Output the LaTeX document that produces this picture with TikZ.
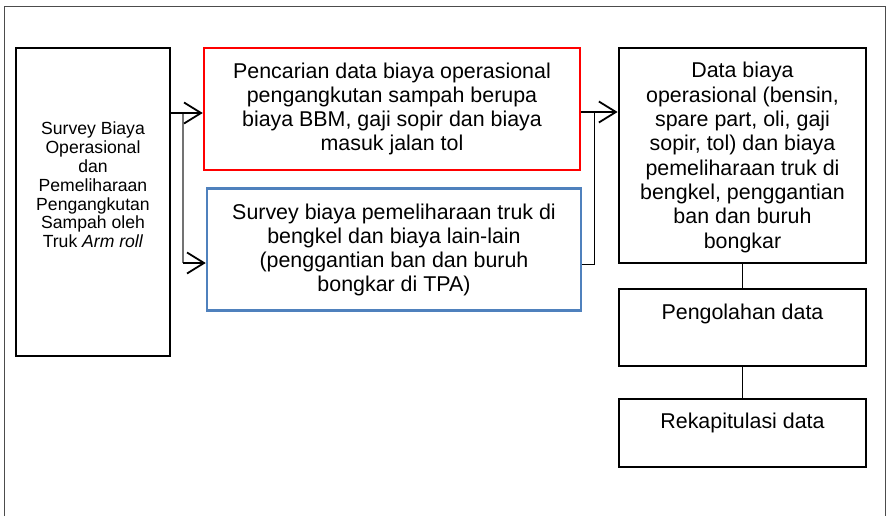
\documentclass[tikz,border=0pt]{standalone}
\usepackage{fontspec}
\setmainfont{Liberation Sans}
\usetikzlibrary{arrows.meta}
\definecolor{boxblue}{RGB}{79,129,189}
\begin{document}
\begin{tikzpicture}[x=1pt,y=-1pt,
  box/.style={draw=black,line width=2.8pt,rectangle,inner sep=0pt},
  redbox/.style={draw=red,line width=2.5pt,rectangle,inner sep=0pt},
  bluebox/.style={draw=boxblue,line width=2.5pt,rectangle,inner sep=0pt},
  bigtxt/.style={align=center,inner sep=0pt,font=\fontsize{21.4}{24.3}\selectfont},
  smalltxt/.style={align=center,inner sep=0pt,font=\fontsize{17.6}{18.8}\selectfont},
  flow/.style={line width=1.8pt,-{Straight Barb[length=17pt,width=21pt,line width=1.8pt]}},
  link/.style={line width=1pt}]
\useasboundingbox (0,0) rectangle (890,516);
% page frame
\draw[line width=1pt,black!70] (4,516) -- (4,7) -- (885,7) -- (885,516);

% boxes
\node[box,minimum width=154,minimum height=308] (L) at (93,202) {};
\node[redbox,minimum width=376,minimum height=122] (R) at (392,109) {};
\node[bluebox,minimum width=374,minimum height=122] (B) at (394,249.5) {};
\node[box,minimum width=247,minimum height=215] (D) at (742.5,155.5) {};
\node[box,minimum width=247,minimum height=77] (P) at (742.5,327.5) {};
\node[box,minimum width=247,minimum height=68] (K) at (742.5,433) {};

% texts
\node[smalltxt] (Lt) at (93,185) {Survey Biaya\\Operasional\\dan\\Pemeliharaan\\Pengangkutan\\Sampah oleh\\Truk \textit{Arm roll}};
\node[bigtxt] (Rt) at (392,109) {Pencarian data biaya operasional\\pengangkutan sampah berupa\\biaya BBM, gaji sopir dan biaya\\masuk jalan tol};
\node[bigtxt] (Bt) at (394,250) {Survey biaya pemeliharaan truk di\\bengkel dan biaya lain-lain\\(penggantian ban dan buruh\\bongkar di TPA)};
\node[bigtxt] (Dt) at (742.5,157.5) {Data biaya\\operasional (bensin,\\spare part, oli, gaji\\sopir, tol) dan biaya\\pemeliharaan truk di\\bengkel, penggantian\\ban dan buruh\\bongkar};
\node[bigtxt] (Pt) at (742.5,314) {Pengolahan data};
\node[bigtxt] (Kt) at (742.5,423) {Rekapitulasi data};

% junction points
\coordinate (ja) at (183,113);
\coordinate (jb) at (183,263);
\coordinate (jc) at (594,112);
\coordinate (jd) at (594,264);

% connectors
\draw[line width=1.2pt,black!55] (ja) -- (jb);
\draw[flow] (L.east |- ja) -- (R.west |- ja);
\draw[flow] (jb) -- (B.west |- jb);
\draw[link] (B.east |- jd) -- (jd) -- (jc);
\draw[flow] (R.east |- jc) -- (D.west |- jc);
\draw[link,line width=1.4pt] (D.south) -- (P.north);
\draw[link,line width=1.4pt] (P.south) -- (K.north);
\end{tikzpicture}
\end{document}
